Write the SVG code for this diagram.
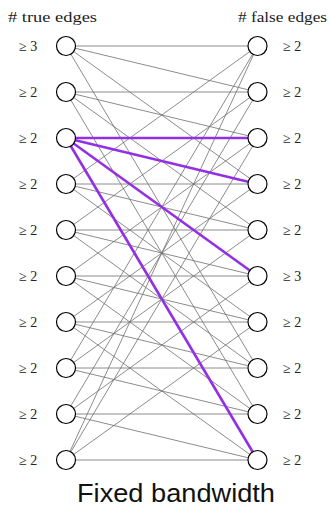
<svg xmlns="http://www.w3.org/2000/svg" width="329" height="509" viewBox="0 0 329 509">
<style>
.e{stroke:#6e6e6e;stroke-width:0.8;fill:none}
.p{stroke:#9430e4;stroke-width:2.6;fill:none}
.n{fill:#fff;stroke:#000;stroke-width:1.2}
.lb{font-family:"Liberation Serif","DejaVu Serif",serif;font-size:14px;fill:#222}
.hd{font-family:"Liberation Serif","DejaVu Serif",serif;font-size:15px;fill:#222}
.tt{font-family:"Liberation Sans","DejaVu Sans",sans-serif;font-size:25px;fill:#111}
</style>
<rect width="329" height="509" fill="#fff"/>
<text class="hd" x="8" y="22" textLength="89" lengthAdjust="spacingAndGlyphs"># true edges</text>
<text class="hd" x="238" y="22" textLength="89" lengthAdjust="spacingAndGlyphs"># false edges</text>
<g id="connectors">
<line class="e" x1="66" y1="46" x2="257.5" y2="46"/>
<line class="e" x1="66" y1="46" x2="257.5" y2="92"/>
<line class="e" x1="66" y1="46" x2="257.5" y2="184"/>
<line class="e" x1="66" y1="46" x2="257.5" y2="368"/>
<line class="e" x1="66" y1="92" x2="257.5" y2="92"/>
<line class="e" x1="66" y1="92" x2="257.5" y2="138"/>
<line class="e" x1="66" y1="92" x2="257.5" y2="230"/>
<line class="e" x1="66" y1="92" x2="257.5" y2="414"/>
<line class="e" x1="66" y1="184" x2="257.5" y2="184"/>
<line class="e" x1="66" y1="184" x2="257.5" y2="230"/>
<line class="e" x1="66" y1="184" x2="257.5" y2="322"/>
<line class="e" x1="66" y1="184" x2="257.5" y2="46"/>
<line class="e" x1="66" y1="230" x2="257.5" y2="230"/>
<line class="e" x1="66" y1="230" x2="257.5" y2="276"/>
<line class="e" x1="66" y1="230" x2="257.5" y2="368"/>
<line class="e" x1="66" y1="230" x2="257.5" y2="92"/>
<line class="e" x1="66" y1="276" x2="257.5" y2="276"/>
<line class="e" x1="66" y1="276" x2="257.5" y2="322"/>
<line class="e" x1="66" y1="276" x2="257.5" y2="414"/>
<line class="e" x1="66" y1="276" x2="257.5" y2="138"/>
<line class="e" x1="66" y1="322" x2="257.5" y2="322"/>
<line class="e" x1="66" y1="322" x2="257.5" y2="368"/>
<line class="e" x1="66" y1="322" x2="257.5" y2="460"/>
<line class="e" x1="66" y1="322" x2="257.5" y2="184"/>
<line class="e" x1="66" y1="368" x2="257.5" y2="368"/>
<line class="e" x1="66" y1="368" x2="257.5" y2="414"/>
<line class="e" x1="66" y1="368" x2="257.5" y2="46"/>
<line class="e" x1="66" y1="368" x2="257.5" y2="230"/>
<line class="e" x1="66" y1="414" x2="257.5" y2="414"/>
<line class="e" x1="66" y1="414" x2="257.5" y2="460"/>
<line class="e" x1="66" y1="414" x2="257.5" y2="92"/>
<line class="e" x1="66" y1="414" x2="257.5" y2="276"/>
<line class="e" x1="66" y1="460" x2="257.5" y2="460"/>
<line class="e" x1="66" y1="460" x2="257.5" y2="46"/>
<line class="e" x1="66" y1="460" x2="257.5" y2="138"/>
<line class="e" x1="66" y1="460" x2="257.5" y2="322"/>
<line class="p" x1="66" y1="138" x2="257.5" y2="138"/>
<line class="p" x1="66" y1="138" x2="257.5" y2="184"/>
<line class="p" x1="66" y1="138" x2="257.5" y2="276"/>
<line class="p" x1="66" y1="138" x2="257.5" y2="460"/>
</g>
<g id="L0"><circle class="n" cx="66" cy="46" r="9.5"/><text class="lb" x="19" y="51">≥ 3</text></g>
<g id="L1"><circle class="n" cx="66" cy="92" r="9.5"/><text class="lb" x="19" y="97">≥ 2</text></g>
<g id="L2"><circle class="n" cx="66" cy="138" r="9.5"/><text class="lb" x="19" y="143">≥ 2</text></g>
<g id="L3"><circle class="n" cx="66" cy="184" r="9.5"/><text class="lb" x="19" y="189">≥ 2</text></g>
<g id="L4"><circle class="n" cx="66" cy="230" r="9.5"/><text class="lb" x="19" y="235">≥ 2</text></g>
<g id="L5"><circle class="n" cx="66" cy="276" r="9.5"/><text class="lb" x="19" y="281">≥ 2</text></g>
<g id="L6"><circle class="n" cx="66" cy="322" r="9.5"/><text class="lb" x="19" y="327">≥ 2</text></g>
<g id="L7"><circle class="n" cx="66" cy="368" r="9.5"/><text class="lb" x="19" y="373">≥ 2</text></g>
<g id="L8"><circle class="n" cx="66" cy="414" r="9.5"/><text class="lb" x="19" y="419">≥ 2</text></g>
<g id="L9"><circle class="n" cx="66" cy="460" r="9.5"/><text class="lb" x="19" y="465">≥ 2</text></g>
<g id="R0"><circle class="n" cx="257.5" cy="46" r="9.5"/><text class="lb" x="283" y="51">≥ 2</text></g>
<g id="R1"><circle class="n" cx="257.5" cy="92" r="9.5"/><text class="lb" x="283" y="97">≥ 2</text></g>
<g id="R2"><circle class="n" cx="257.5" cy="138" r="9.5"/><text class="lb" x="283" y="143">≥ 2</text></g>
<g id="R3"><circle class="n" cx="257.5" cy="184" r="9.5"/><text class="lb" x="283" y="189">≥ 2</text></g>
<g id="R4"><circle class="n" cx="257.5" cy="230" r="9.5"/><text class="lb" x="283" y="235">≥ 2</text></g>
<g id="R5"><circle class="n" cx="257.5" cy="276" r="9.5"/><text class="lb" x="283" y="281">≥ 3</text></g>
<g id="R6"><circle class="n" cx="257.5" cy="322" r="9.5"/><text class="lb" x="283" y="327">≥ 2</text></g>
<g id="R7"><circle class="n" cx="257.5" cy="368" r="9.5"/><text class="lb" x="283" y="373">≥ 2</text></g>
<g id="R8"><circle class="n" cx="257.5" cy="414" r="9.5"/><text class="lb" x="283" y="419">≥ 2</text></g>
<g id="R9"><circle class="n" cx="257.5" cy="460" r="9.5"/><text class="lb" x="283" y="465">≥ 2</text></g>
<text class="tt" x="77" y="502" textLength="198" lengthAdjust="spacingAndGlyphs">Fixed bandwidth</text>
</svg>
